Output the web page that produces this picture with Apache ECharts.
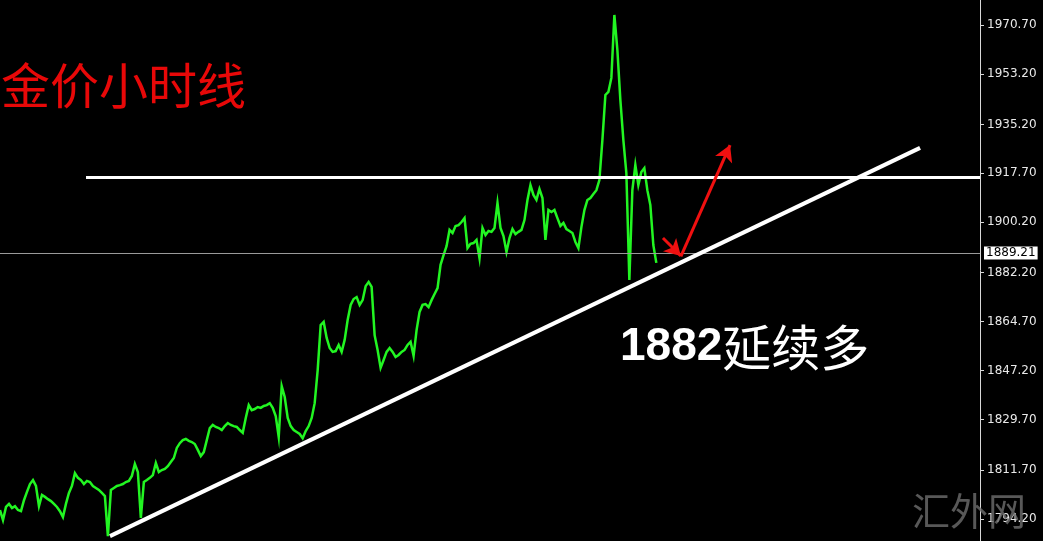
<!DOCTYPE html>
<html><head><meta charset="utf-8">
<script src="https://cdn.jsdelivr.net/npm/echarts@6/dist/echarts.min.js"></script>
<style>html,body{margin:0;padding:0;background:#000;}#c{width:1043px;height:541px;}</style>
</head><body><div id="c"></div>
<script>
// Hourly gold closes (one value per hour, oldest first)
const prices = [
1797.4,1793.8,1798.5,1799.6,1798.1,1798.8,1797.4,1797.0,1800.9,1803.9,
1806.7,1808.1,1806.0,1798.8,1802.8,1802.1,1801.3,1800.6,1799.6,1798.5,
1797.0,1794.9,1799.6,1803.5,1806.0,1810.6,1808.9,1808.1,1806.7,1807.8,
1807.4,1806.0,1805.3,1804.6,1803.5,1802.4,1788.1,1804.6,1805.3,1806.0,
1806.3,1806.7,1807.4,1807.8,1809.6,1813.9,1811.0,1794.6,1807.4,1808.1,
1808.9,1809.9,1814.2,1811.0,1811.7,1812.1,1813.1,1814.6,1816.0,1819.6,
1821.3,1822.4,1822.8,1822.1,1821.7,1821.0,1818.9,1816.7,1818.1,1822.4,
1826.7,1827.8,1827.1,1826.7,1826.0,1827.4,1828.5,1827.8,1827.4,1827.1,
1826.0,1825.0,1830.3,1834.9,1833.1,1833.5,1834.2,1833.9,1834.6,1834.9,
1835.6,1833.9,1831.0,1823.5,1841.7,1837.8,1830.3,1827.4,1826.0,1825.3,
1824.6,1823.1,1825.6,1827.4,1830.3,1835.6,1847.4,1863.5,1864.6,1858.9,
1855.3,1853.9,1854.2,1856.4,1853.9,1858.2,1865.3,1870.7,1872.8,1873.5,
1870.7,1872.4,1877.4,1878.9,1877.1,1859.9,1854.6,1848.2,1851.0,1853.9,
1855.3,1853.9,1852.1,1852.8,1853.9,1854.6,1856.4,1857.5,1852.5,1861.7,
1868.2,1870.7,1871.0,1869.9,1872.4,1874.6,1876.7,1885.0,1888.5,1891.7,
1897.5,1896.4,1898.9,1899.2,1900.3,1901.7,1891.0,1892.5,1892.8,1893.9,
1887.4,1898.2,1895.7,1897.1,1896.8,1898.2,1907.1,1898.2,1895.3,1889.6,
1894.6,1897.8,1896.0,1896.8,1897.5,1901.0,1908.2,1913.5,1910.0,1908.2,
1912.1,1908.9,1893.9,1904.6,1903.9,1904.6,1901.7,1898.9,1900.0,1897.8,
1897.1,1896.4,1893.2,1891.0,1898.5,1904.6,1908.2,1908.9,1910.3,1911.7,
1915.3,1929.6,1945.7,1946.8,1951.8,1974.3,1961.8,1943.9,1929.6,1917.8,
1879.6,1911.7,1920.7,1913.5,1918.2,1919.6,1911.7,1906.4,1892.1,1885.7
];
const tickLabels = [1794.20,1811.70,1829.70,1847.20,1864.70,1882.20,1900.20,1917.70,1935.20,1953.20,1970.70];
const lastPrice = 1889.21;
const resistance = 1916.4;
const resistanceStartHour = 28.7;
const trendLine = [[36.7, 1788.1], [307, 1926.8]];
const arrowDown = [[221.2, 1894.6], [227.2, 1888.2]];
const arrowUp = [[227.2, 1888.0], [243.6, 1927.8]];
const hourSlots = 327;
const yMin = 1786.34, yMax = 1979.64;

const chart = echarts.init(document.getElementById('c'), null, {renderer: 'canvas'});
chart.setOption({
  backgroundColor: '#000',
  animation: false,
  grid: {left: 0, right: 63, top: 0, bottom: 0},
  xAxis: {type: 'value', min: 0, max: hourSlots, show: false},
  yAxis: {
    type: 'value', position: 'right', min: yMin, max: yMax, scale: true,
    axisLine: {show: true, onZero: false, lineStyle: {color: '#d8d8d8', width: 1}},
    axisTick: {show: true, length: 4, customValues: tickLabels, lineStyle: {color: '#d8d8d8'}},
    axisLabel: {show: true, customValues: tickLabels, formatter: v => v.toFixed(2),
      color: '#e8e8e8', fontFamily: 'DejaVu Sans', fontSize: 12, margin: 7},
    splitLine: {show: false}
  },
  series: [
    {
      type: 'line', data: prices.map((v, i) => [i, v]), showSymbol: false, symbol: 'none',
      lineStyle: {color: '#22f522', width: 2.5, join: 'miter'}, z: 3,
      markLine: {
        silent: true, symbol: ['none', 'none'], animation: false,
        data: [
          {yAxis: lastPrice, lineStyle: {color: '#9a9a9a', width: 1, type: 'solid'},
           label: {show: true, position: 'end', formatter: lastPrice.toFixed(2), distance: 4,
             backgroundColor: '#ffffff', color: '#000', fontFamily: 'DejaVu Sans', fontSize: 12,
             padding: [1, 2, 0, 2]}},
          [{coord: [resistanceStartHour, resistance], lineStyle: {color: '#fff', width: 3, type: 'solid'}, label: {show: false}},
           {coord: [hourSlots, resistance]}],
          [{coord: trendLine[0], lineStyle: {color: '#fff', width: 4, type: 'solid'}, label: {show: false}},
           {coord: trendLine[1]}]
        ]
      }
    },
    {
      type: 'line', data: [], z: 4,
      markLine: {
        silent: true, symbol: ['none', 'arrow'], symbolSize: [14, 16], animation: false,
        lineStyle: {color: '#f01010', width: 3, type: 'solid'}, label: {show: false},
        data: [
          [{coord: arrowDown[0]}, {coord: arrowDown[1]}],
          [{coord: arrowUp[0]}, {coord: arrowUp[1]}]
        ]
      }
    }
  ],
  graphic: [
    {type: 'text', z: 10, style: {x: 1, y: 85, text: '金价小时线', fill: '#e80808',
      font: '49px "Noto Sans CJK SC"', verticalAlign: 'middle'}},
    {type: 'text', z: 10, style: {x: 620, y: 347, verticalAlign: 'middle',
      text: '{a|1882}{b|延续多}',
      rich: {a: {fill: '#fff', font: 'bold 46px "Liberation Sans"'}, b: {fill: '#fff', font: '49px "Noto Sans CJK SC"'}}}},
    {type: 'text', z: 10, style: {x: 912, y: 511, text: '汇外网', fill: 'rgba(110,110,110,0.8)',
      font: '38px "Noto Sans CJK SC"', verticalAlign: 'middle'}}
  ]
});
</script></body></html>
